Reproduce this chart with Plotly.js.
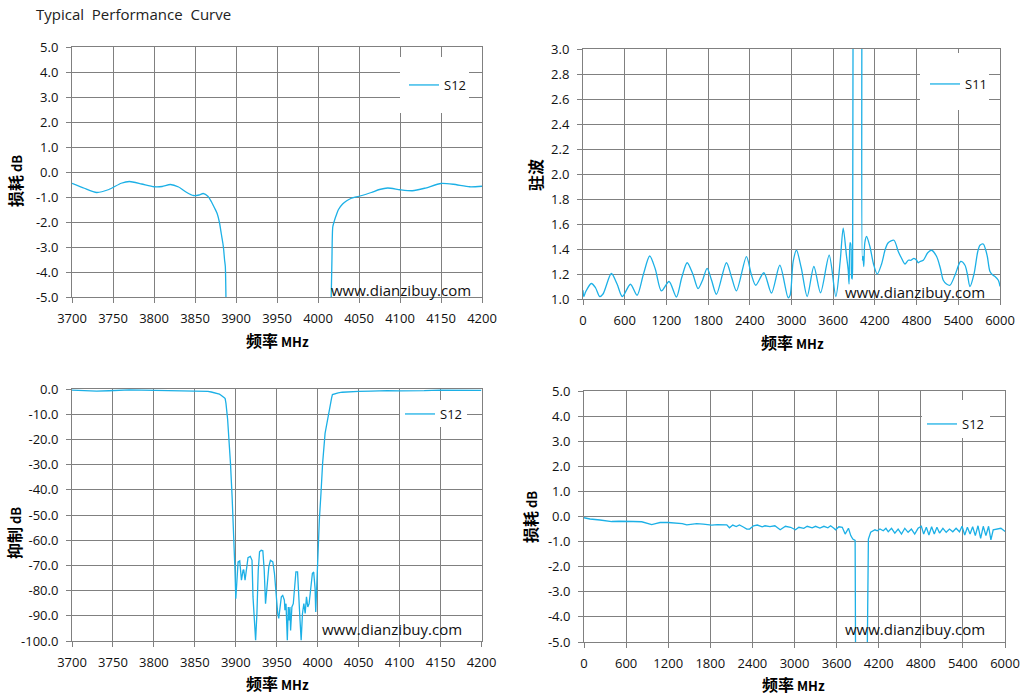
<!DOCTYPE html>
<html>
<head>
<meta charset="utf-8">
<script src="https://cdn.plot.ly/plotly-3.0.1.min.js"></script>
<style>html,body{margin:0;padding:0;background:#fff;}#chart{width:1027px;height:698px;}</style>
</head>
<body>
<div id="chart"></div>
<script>
// ---------- data ----------
const narrowFreq = [3700,3715,3730,3745,3760,3770,3785,3800,3810,3820,3830,3840,3848,3855,3860,3866,3870,3874,3877,3880,3882,3884,3885,3886,3887,3888,3890,3891.5,3893.5,3895.5,3897.5,3899,3900,3902.8,3904.8,3906.9,3908.9,3909.7,3911.3,3912.9,3914.9,3917.7,3919.8,3921,3923,3924.2,3925.8,3927.4,3929,3931,3933,3934.7,3936.3,3937.9,3940.3,3942.3,3945.2,3947.2,3949.2,3951.2,3952.4,3954,3955.6,3957.3,3959.3,3960,3961.3,3962.9,3964.1,3965.3,3966.1,3966.9,3968.5,3970.2,3971.8,3973.4,3975.4,3976.6,3978.2,3979.8,3981.4,3983.1,3984.7,3986.3,3987.9,3989.5,3991.5,3993.5,3995.1,3996.8,3997.6,3999.2,4000.5,4002,4004,4006,4009,4013,4016,4017,4018,4020,4022,4025,4030,4035,4040,4050,4065,4075,4085,4100,4115,4130,4150,4165,4185,4200];
const narrowS12 = [-0.45,-0.65,-0.82,-0.70,-0.45,-0.38,-0.48,-0.59,-0.58,-0.50,-0.60,-0.82,-0.94,-0.92,-0.86,-0.98,-1.19,-1.45,-1.66,-2.05,-2.46,-2.85,-3.12,-3.5,-3.79,-5.7,-12,-19,-29.5,-42.7,-56,-72,-83.2,-68.6,-68.2,-75.9,-71.9,-71.7,-75.9,-71.3,-66.9,-66.4,-68,-82.5,-95.8,-99.7,-89,-71.9,-64.6,-64,-64.2,-71.9,-85.2,-79.9,-70.6,-68,-68.6,-73.2,-82.5,-89.1,-91,-86.5,-82.5,-81.9,-83.8,-87.8,-85.2,-99.7,-86.5,-91.8,-86.5,-95.8,-86.5,-85.2,-79.9,-72.6,-72.6,-82.5,-90.5,-99.7,-89.1,-85.2,-89.1,-82.5,-86.5,-85.2,-79.9,-73.2,-72.6,-79.2,-88.5,-71.9,-60,-52,-41.4,-29.5,-17.6,-9.7,-5.2,-3.5,-2.2,-1.95,-1.75,-1.5,-1.28,-1.15,-1.06,-0.97,-0.82,-0.70,-0.64,-0.71,-0.75,-0.65,-0.46,-0.49,-0.59,-0.57];

const s11Freq = [0,12,40,120,180,240,288,408,490,566,682,778,870,960,1040,1128,1238,1344,1420,1498,1580,1656,1720,1786,1850,1920,2064,2140,2208,2352,2420,2486,2602,2712,2832,2952,2980,3024,3072,3140,3226,3322,3418,3542,3638,3700,3744,3790,3816,3828,3842,3852,3866,3874,3880,3886,3900,3950,4000,4012,4020,4028,4040,4055,4080,4128,4180,4234,4296,4350,4392,4474,4536,4580,4632,4680,4720,4762,4800,4824,4850,4896,4960,5016,5088,5140,5184,5230,5280,5352,5434,5496,5530,5568,5626,5680,5712,5760,5790,5818,5856,5900,5928,5976,6000];
const s11Vswr = [1.07,1.02,1.06,1.124,1.09,1.02,1.04,1.204,1.12,1.02,1.118,1.03,1.2,1.344,1.24,1.065,1.14,1.016,1.17,1.29,1.2,1.083,1.15,1.245,1.15,1.038,1.29,1.17,1.065,1.339,1.2,1.11,1.21,1.048,1.27,1.01,1.03,1.3,1.39,1.25,1.02,1.26,1.05,1.35,1.02,1.3,1.567,1.35,1.23,1.12,1.45,1.44,1.17,1.16,1.4,3.5,25,40,25,3.5,1.31,1.34,1.26,1.45,1.5,1.42,1.28,1.2,1.28,1.4,1.45,1.47,1.38,1.33,1.28,1.31,1.31,1.325,1.31,1.29,1.3,1.31,1.37,1.39,1.34,1.25,1.15,1.12,1.11,1.19,1.30,1.27,1.2,1.10,1.2,1.38,1.43,1.44,1.4,1.34,1.22,1.19,1.18,1.15,1.10];

const wideFreq = [0,86,228,395,500,609,700,823,900,965,1020,1084,1200,1322,1400,1465,1530,1607,1700,1821,1900,1990,2035,2073,2120,2170,2215,2270,2320,2360,2416,2470,2540,2580,2650,2720,2796,2871,2943,3014,3062,3133,3181,3252,3300,3362,3419,3476,3514,3562,3585,3633,3681,3722,3769,3802,3831,3864,3882,3890,3960,4025,4035,4053,4086,4147,4180,4218,4265,4303,4336,4383,4430,4477,4525,4572,4619,4666,4713,4761,4808,4841,4879,4916,4954,4992,5030,5067,5115,5162,5209,5256,5303,5351,5388,5426,5464,5502,5539,5577,5615,5653,5690,5728,5766,5799,5832,5879,5941,5993,6000];
const wideS12 = [-0.05,-0.10,-0.14,-0.20,-0.19,-0.18,-0.20,-0.21,-0.26,-0.32,-0.28,-0.24,-0.24,-0.25,-0.28,-0.33,-0.30,-0.28,-0.30,-0.34,-0.32,-0.33,-0.33,-0.45,-0.34,-0.40,-0.34,-0.42,-0.50,-0.50,-0.37,-0.34,-0.41,-0.37,-0.40,-0.37,-0.53,-0.39,-0.43,-0.53,-0.43,-0.47,-0.39,-0.45,-0.39,-0.46,-0.39,-0.45,-0.37,-0.47,-0.53,-0.41,-0.43,-0.70,-0.47,-0.76,-0.90,-0.95,-6,-40,-70,-40,-6,-0.90,-0.63,-0.53,-0.57,-0.50,-0.57,-0.47,-0.61,-0.47,-0.66,-0.50,-0.70,-0.47,-0.63,-0.50,-0.70,-0.47,-0.39,-0.70,-0.43,-0.74,-0.41,-0.70,-0.43,-0.66,-0.47,-0.63,-0.50,-0.61,-0.47,-0.61,-0.39,-0.74,-0.43,-0.70,-0.41,-0.76,-0.37,-0.87,-0.39,-0.76,-0.39,-0.93,-0.53,-0.50,-0.47,-0.58,-0.60];

// tick values / labels
const narrowTicks = [3700,3750,3800,3850,3900,3950,4000,4050,4100,4150,4200];
const narrowTickText = ['3700','3750','3800','3850','3900','3950','4000','4050','4100','4150','4200'];
const wideTicks = [0,600,1200,1800,2400,3000,3600,4200,4800,5400,6000];
const wideTickText = ['0','600','1200','1800','2400','3000','3600','4200','4800','5400','6000'];
const lossTicks = [5,4,3,2,1,0,-1,-2,-3,-4,-5];
const lossTickText = ['5.0','4.0','3.0','2.0','1.0','0.0','-1.0','-2.0','-3.0','-4.0','-5.0'];
const vswrTicks = [1.0,1.2,1.4,1.6,1.8,2.0,2.2,2.4,2.6,2.8,3.0];
const vswrTickText = ['1.0','1.2','1.4','1.6','1.8','2.0','2.2','2.4','2.6','2.8','3.0'];
const rejTicks = [0,-10,-20,-30,-40,-50,-60,-70,-80,-90,-100];
const rejTickText = ['0.0','-10.0','-20.0','-30.0','-40.0','-50.0','-60.0','-70.0','-80.0','-90.0','-100.0'];

const chartTitle = 'Typical\u00a0 Performance\u00a0 Curve';
const xTitle = '<b><span style="font-size:16px">频率</span> MHz</b>';
const lossTitle = '<b><span style="font-size:16px">损耗</span> dB</b>';
const vswrTitle = '<b><span style="font-size:16px">驻波</span></b>';
const rejTitle = '<b><span style="font-size:16px">抑制</span> dB</b>';
const watermark = 'www.dianzibuy.com';

// ---------- style ----------
const W = 1027, H = 698;
const LINE = '#1cb0e6';
const GRID = '#808080';
const FONT = 'Open Sans, Liberation Sans, sans-serif';
const CJK = 'Noto Sans CJK SC, sans-serif';
const px = v => v / W;
const py = v => 1 - v / H;

function xAx(l, r, anchor, vals, txt, rng) {
  return {domain:[px(l), px(r)], anchor, range:rng, tickvals:vals, ticktext:txt,
    showgrid:true, gridcolor:GRID, gridwidth:1, zeroline:false, showline:true, linecolor:GRID, linewidth:1, mirror:true,
    ticks:'outside', ticklen:5, tickcolor:GRID, ticklabelstandoff:4, tickfont:{family:FONT, size:13, color:'#111'}, fixedrange:true};
}
function yAx(t, b, anchor, vals, txt, rng) {
  return {domain:[py(b), py(t)], anchor, range:rng, tickvals:vals, ticktext:txt,
    showgrid:true, gridcolor:GRID, gridwidth:1, zeroline:false, showline:true, linecolor:GRID, linewidth:1, mirror:true,
    ticks:'outside', ticklen:5, tickcolor:GRID, ticklabelstandoff:5, tickfont:{family:FONT, size:13, color:'#111'}, fixedrange:true};
}

const traces = [
  {x:narrowFreq, y:narrowS12, xaxis:'x', yaxis:'y', name:'S12', mode:'lines', line:{color:LINE, width:1.3, shape:'spline', smoothing:0.6}, legend:'legend'},
  {x:s11Freq, y:s11Vswr, xaxis:'x2', yaxis:'y2', name:'S11', mode:'lines', line:{color:LINE, width:1.3, shape:'spline', smoothing:0.8}, legend:'legend2'},
  {x:narrowFreq, y:narrowS12, xaxis:'x3', yaxis:'y3', name:'S12', mode:'lines', line:{color:LINE, width:1.3}, legend:'legend3'},
  {x:wideFreq, y:wideS12, xaxis:'x4', yaxis:'y4', name:'S12', mode:'lines', line:{color:LINE, width:1.3}, legend:'legend4'}
];

function leg(lineStartX, cy) {
  return {x:px(lineStartX - 5), y:py(cy), xanchor:'left', yanchor:'middle', bgcolor:'rgba(0,0,0,0)', borderwidth:0,
    font:{family:FONT, size:13, color:'#111'}, itemwidth:30};
}
function box(l, t, r, b) {
  return {type:'rect', xref:'paper', yref:'paper', x0:px(l), x1:px(r), y0:py(b), y1:py(t), fillcolor:'#fff', line:{width:0}, layer:'above'};
}
function wm(rightX, cy) {
  return {text:watermark, xref:'paper', yref:'paper', x:px(rightX), y:py(cy), xanchor:'right', yanchor:'middle', showarrow:false,
    font:{family:FONT, size:15, color:'#111'}};
}
function axTitle(text, cx, cy, angle) {
  return {text, xref:'paper', yref:'paper', x:px(cx), y:py(cy), xanchor:'center', yanchor:'middle', showarrow:false, textangle:angle,
    font:{family:CJK, size:13, color:'#000'}};
}

const layout = {
  width:W, height:H, margin:{l:0, r:0, t:0, b:0}, paper_bgcolor:'#fff', plot_bgcolor:'#fff', showlegend:true,
  title:{text:chartTitle, x:px(36), xanchor:'left', xref:'paper', y:py(15), yanchor:'middle', yref:'paper', font:{family:FONT, size:15, color:'#222'}},
  xaxis: xAx(72, 482, 'y', narrowTicks, narrowTickText, [3700,4200]),
  yaxis: yAx(47, 297, 'x', lossTicks, lossTickText, [-5,5]),
  xaxis2: xAx(583, 1000, 'y2', wideTicks, wideTickText, [0,6000]),
  yaxis2: yAx(49, 299, 'x2', vswrTicks, vswrTickText, [1,3]),
  xaxis3: xAx(72, 481.5, 'y3', narrowTicks, narrowTickText, [3700,4200]),
  yaxis3: yAx(389, 641, 'x3', rejTicks, rejTickText, [-100,0]),
  xaxis4: xAx(584, 1005, 'y4', wideTicks, wideTickText, [0,6000]),
  yaxis4: yAx(391, 642, 'x4', lossTicks, lossTickText, [-5,5]),
  legend: leg(409, 85),
  legend2: leg(930, 84),
  legend3: leg(405, 414),
  legend4: leg(927, 424),
  shapes:[box(400,57,469,113), box(920,53,989,110), box(400,400,467,427), box(922,400,990,438)],
  annotations:[
    wm(473,290), wm(987,292), wm(464,629), wm(987,629),
    axTitle(xTitle, 277, 340, 0), axTitle(xTitle, 792, 342, 0), axTitle(xTitle, 277, 683, 0), axTitle(xTitle, 793, 684, 0),
    axTitle(lossTitle, 15, 181, -90), axTitle(vswrTitle, 535, 175, -90), axTitle(rejTitle, 14, 533, -90), axTitle(lossTitle, 530, 517, -90)
  ]
};

Plotly.newPlot('chart', traces, layout, {displayModeBar:false, staticPlot:true});
</script>
</body>
</html>
